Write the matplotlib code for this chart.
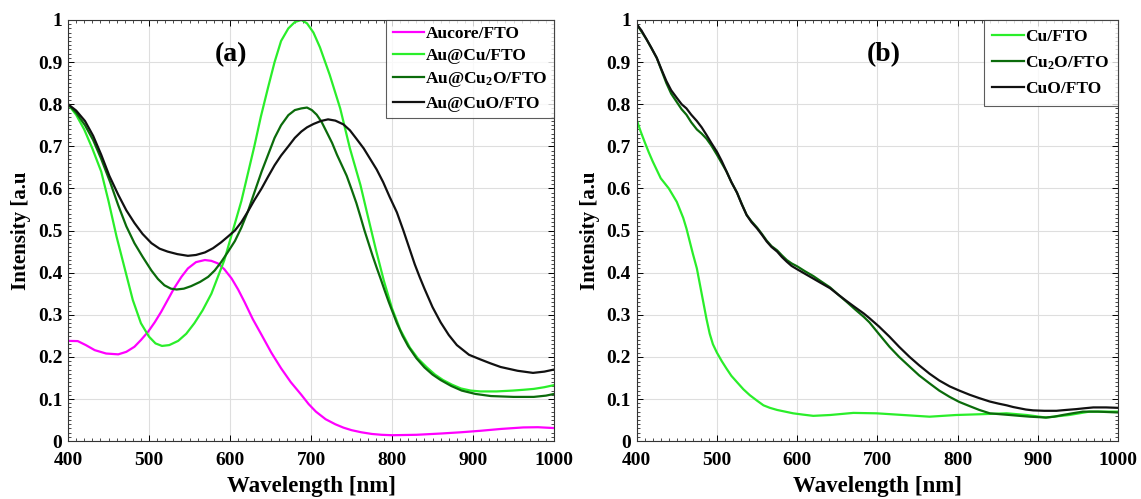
import matplotlib
matplotlib.use("Agg")
import matplotlib.pyplot as plt
from matplotlib.ticker import MultipleLocator

plt.rcParams["font.family"] = ["Liberation Serif", "DejaVu Serif"]
plt.rcParams["font.weight"] = "bold"
plt.rcParams["mathtext.fontset"] = "custom"
plt.rcParams["mathtext.rm"] = "Liberation Serif:bold"
plt.rcParams["mathtext.it"] = "Liberation Serif:bold"
plt.rcParams["mathtext.bf"] = "Liberation Serif:bold"

# ---- panel (a) : values ----
wl_aucore = [400, 412, 422, 433, 447, 462, 472, 482, 490, 499, 507, 515, 523, 531, 540, 548, 558,
             569, 577, 585, 593, 602, 610, 618, 628, 639, 651, 663, 675, 688, 697, 706, 718, 730,
             740, 750, 762, 775, 787, 800, 830, 860, 885, 909, 935, 962, 980, 1000]
aucore = [0.238, 0.2375, 0.228, 0.216, 0.208, 0.206, 0.212, 0.224, 0.24, 0.26, 0.282, 0.307, 0.335,
          0.363, 0.39, 0.41, 0.425, 0.43, 0.428, 0.422, 0.408, 0.386, 0.36, 0.33, 0.29, 0.252, 0.21,
          0.173, 0.14, 0.11, 0.088, 0.07, 0.052, 0.04, 0.032, 0.026, 0.021, 0.017, 0.015, 0.014,
          0.015, 0.018, 0.021, 0.0245, 0.029, 0.0325, 0.033, 0.031]

wl_aucu = [400, 410, 420, 430, 441, 450, 460, 470, 480, 490, 500, 508, 516, 525, 536, 546, 556, 566,
           577, 585, 593, 602, 614, 622, 630, 638, 647, 655, 663, 672, 680, 688, 695, 703, 711, 723,
           736, 748, 761, 770, 780, 790, 800, 810, 822, 832, 843, 853, 863, 874, 885, 897, 909, 929,
           949, 963, 975, 988, 1000]
aucu = [0.80, 0.775, 0.74, 0.695, 0.64, 0.57, 0.485, 0.41, 0.335, 0.28, 0.248, 0.232, 0.226, 0.228,
        0.238, 0.255, 0.28, 0.31, 0.35, 0.39, 0.43, 0.49, 0.57, 0.635, 0.70, 0.77, 0.84, 0.90, 0.95,
        0.98, 0.995, 1.0, 0.992, 0.97, 0.935, 0.87, 0.79, 0.695, 0.608, 0.535, 0.455, 0.38, 0.315,
        0.265, 0.222, 0.196, 0.175, 0.158, 0.145, 0.134, 0.125, 0.12, 0.118, 0.118, 0.12, 0.122,
        0.124, 0.128, 0.133]

wl_aucu2o = [400, 410, 421, 431, 441, 452, 462, 472, 482, 492, 503, 511, 519, 527, 534, 543, 552,
             563, 573, 581, 589, 597, 606, 614, 622, 630, 639, 647, 655, 663, 672, 680, 688, 695,
             701, 707, 713, 719, 726, 732, 738, 744, 750, 756, 761, 766, 771, 776, 781, 786, 791,
             796, 801, 806, 813, 820, 830, 840, 850, 860, 873, 886, 903, 922, 950, 975, 990, 1000]
aucu2o = [0.80, 0.78, 0.75, 0.715, 0.67, 0.615, 0.56, 0.51, 0.47, 0.438, 0.405, 0.385, 0.37, 0.362,
          0.36, 0.362, 0.368, 0.378, 0.39, 0.405, 0.425, 0.448, 0.475, 0.507, 0.545, 0.59, 0.64,
          0.68, 0.72, 0.75, 0.774, 0.786, 0.79, 0.792, 0.786, 0.775, 0.758, 0.735, 0.708, 0.68,
          0.655, 0.63, 0.598, 0.565, 0.533, 0.50, 0.47, 0.44, 0.412, 0.385, 0.357, 0.33, 0.305,
          0.28, 0.25, 0.225, 0.197, 0.175, 0.158, 0.145, 0.131, 0.12, 0.112, 0.107, 0.105, 0.105,
          0.108, 0.112]

wl_aucuo = [400, 410, 421, 431, 441, 451, 462, 472, 482, 492, 503, 513, 523, 535, 548, 558, 569, 579,
            589, 597, 606, 614, 622, 630, 639, 647, 655, 663, 672, 680, 688, 695, 703, 712, 721, 730,
            740, 748, 756, 765, 773, 781, 789, 797, 806, 814, 821, 828, 834, 840, 850, 860, 870, 880,
            895, 909, 921, 934, 955, 974, 988, 1000]
aucuo = [0.80, 0.785, 0.76, 0.725, 0.68, 0.63, 0.585, 0.548, 0.518, 0.492, 0.47, 0.457, 0.45, 0.444,
         0.44, 0.442, 0.448, 0.458, 0.472, 0.485, 0.50, 0.52, 0.545, 0.572, 0.60, 0.628, 0.655,
         0.678, 0.70, 0.72, 0.735, 0.745, 0.753, 0.76, 0.764, 0.761, 0.752, 0.738, 0.718, 0.695,
         0.67, 0.645, 0.615, 0.58, 0.543, 0.50, 0.46, 0.42, 0.39, 0.362, 0.318, 0.282, 0.252,
         0.228, 0.205, 0.194, 0.185, 0.176, 0.167, 0.162, 0.165, 0.17]

# ---- panel (b) ----
wl_cu = [400, 405, 410, 415, 420, 430, 440, 450, 458, 462, 466, 470, 475, 479, 483, 487, 491, 495,
         500, 506, 512, 518, 525, 533, 541, 550, 558, 566, 575, 585, 595, 607, 620, 641, 670, 699,
         732, 765, 798, 831, 861, 886, 910, 939, 964, 1000]
cu = [0.763, 0.735, 0.71, 0.686, 0.664, 0.624, 0.60, 0.568, 0.53, 0.505, 0.475, 0.445, 0.41, 0.37,
      0.33, 0.29, 0.255, 0.23, 0.21, 0.19, 0.172, 0.155, 0.14, 0.123, 0.109, 0.096, 0.085, 0.079,
      0.074, 0.07, 0.066, 0.063, 0.06, 0.062, 0.067, 0.066, 0.062, 0.058, 0.062, 0.064, 0.066,
      0.062, 0.056, 0.062, 0.07, 0.07]

wl_cu2o = [400, 412, 425, 437, 443, 450, 456, 462, 468, 475, 481, 487, 493, 500, 506, 512, 518, 525,
           531, 537, 543, 550, 556, 562, 568, 575, 581, 587, 593, 600, 610, 620, 630, 641, 651, 662,
           672, 683, 690, 702, 715, 727, 740, 752, 765, 777, 790, 802, 815, 827, 840, 852, 865, 877,
           890, 900, 910, 920, 931, 943, 956, 975, 1000]
cu2o = [0.99, 0.955, 0.91, 0.85, 0.825, 0.805, 0.788, 0.775, 0.757, 0.74, 0.73, 0.718, 0.702, 0.68,
        0.66, 0.64, 0.615, 0.59, 0.563, 0.537, 0.522, 0.507, 0.492, 0.476, 0.463, 0.453, 0.441,
        0.43, 0.422, 0.415, 0.403, 0.392, 0.379, 0.365, 0.348, 0.33, 0.313, 0.295, 0.282, 0.254,
        0.224, 0.20, 0.177, 0.156, 0.137, 0.12, 0.105, 0.093, 0.083, 0.074, 0.066, 0.064, 0.062,
        0.06, 0.058, 0.057, 0.056, 0.058, 0.062, 0.066, 0.07, 0.07, 0.068]

wl_cuo = [400, 406, 412, 418, 425, 431, 437, 443, 450, 456, 462, 468, 475, 481, 487, 493, 500, 506,
          512, 518, 525, 531, 537, 543, 550, 556, 562, 568, 575, 581, 587, 593, 600, 610, 620, 630,
          641, 651, 662, 672, 683, 690, 702, 715, 727, 740, 752, 765, 777, 790, 802, 815, 827, 840,
          851, 861, 869, 877, 885, 894, 908, 923, 935, 948, 958, 969, 985, 1000]
cuo = [0.99, 0.975, 0.955, 0.935, 0.91, 0.882, 0.855, 0.833, 0.815, 0.80, 0.79, 0.775, 0.76, 0.745,
       0.727, 0.708, 0.687, 0.665, 0.64, 0.615, 0.59, 0.562, 0.537, 0.52, 0.505, 0.49, 0.474, 0.461,
       0.45, 0.437, 0.426, 0.416, 0.408, 0.397, 0.386, 0.375, 0.363, 0.348, 0.332, 0.318, 0.303,
       0.292, 0.272, 0.248, 0.224, 0.20, 0.18, 0.16, 0.144, 0.13, 0.12, 0.11, 0.102, 0.094, 0.089,
       0.085, 0.081, 0.078, 0.075, 0.073, 0.072, 0.072, 0.074, 0.076, 0.078, 0.08, 0.08, 0.079]

y_ticks = [0, 0.1, 0.2, 0.3, 0.4, 0.5, 0.6, 0.7, 0.8, 0.9, 1]
y_labels = ["0", "0.1", "0.2", "0.3", "0.4", "0.5", "0.6", "0.7", "0.8", "0.9", "1"]
x_ticks = [400, 500, 600, 700, 800, 900, 1000]

MAGENTA = "#ff00ff"
LIME = "#2aee2a"
DKGREEN = "#0b6b0b"
BLACK = "#111111"

fig = plt.figure(figsize=(11.41, 4.99), dpi=100)
ax1 = fig.add_axes([0.0596, 0.116, 0.426, 0.844])
ax2 = fig.add_axes([0.558, 0.116, 0.422, 0.844])


def style(ax):
    ax.set_xlim(400, 1000)
    ax.set_ylim(0, 1)
    ax.set_xticks(x_ticks)
    ax.set_xticklabels([str(v) for v in x_ticks])
    ax.set_yticks(y_ticks)
    ax.set_yticklabels(y_labels)
    ax.xaxis.set_minor_locator(MultipleLocator(10))
    ax.yaxis.set_minor_locator(MultipleLocator(0.01))
    ax.tick_params(which="both", direction="in", top=True, right=True, labelsize=14)
    ax.tick_params(axis="x", pad=8)
    ax.tick_params(axis="y", pad=4)
    ax.tick_params(which="major", length=4, width=0.7)
    ax.tick_params(which="minor", length=2, width=0.5)
    ax.grid(True, color="#dedede", linewidth=0.8)
    ax.set_axisbelow(True)
    for s in ax.spines.values():
        s.set_linewidth(0.8)
        s.set_color("#333333")
    for lab in ax.get_xticklabels() + ax.get_yticklabels():
        lab.set_fontweight("bold")
    ax.set_xlabel("Wavelength [nm]", fontsize=16.5, fontweight="bold", labelpad=5)
    ax.set_ylabel("Intensity [a.u", fontsize=15, fontweight="bold", labelpad=5)


def add_legend(ax, bpad, lspace):
    leg = ax.legend(loc="upper right", fontsize=12.5, frameon=True, fancybox=False,
                    edgecolor="#333333", handlelength=1.8, handletextpad=0.1,
                    borderpad=bpad, labelspacing=lspace, borderaxespad=0.0)
    leg.get_frame().set_linewidth(0.8)


lw = 1.6
ax1.plot(wl_aucore, aucore, color=MAGENTA, lw=lw, label="Aucore/FTO")
ax1.plot(wl_aucu, aucu, color=LIME, lw=lw, label="Au@Cu/FTO")
ax1.plot(wl_aucu2o, aucu2o, color=DKGREEN, lw=lw, label="Au@Cu$_2$O/FTO")
ax1.plot(wl_aucuo, aucuo, color=BLACK, lw=lw, label="Au@CuO/FTO")
style(ax1)
ax1.text(601, 0.918, "(a)", fontsize=20, fontweight="bold", ha="center", va="center")
add_legend(ax1, 0.35, 0.35)

ax2.plot(wl_cu, cu, color=LIME, lw=lw, label="Cu/FTO")
ax2.plot(wl_cu2o, cu2o, color=DKGREEN, lw=lw, label="Cu$_2$O/FTO")
ax2.plot(wl_cuo, cuo, color=BLACK, lw=lw, label="CuO/FTO")
style(ax2)
ax2.text(708, 0.918, "(b)", fontsize=20, fontweight="bold", ha="center", va="center")
add_legend(ax2, 0.5, 0.55)

fig.savefig("out.png", dpi=100)
